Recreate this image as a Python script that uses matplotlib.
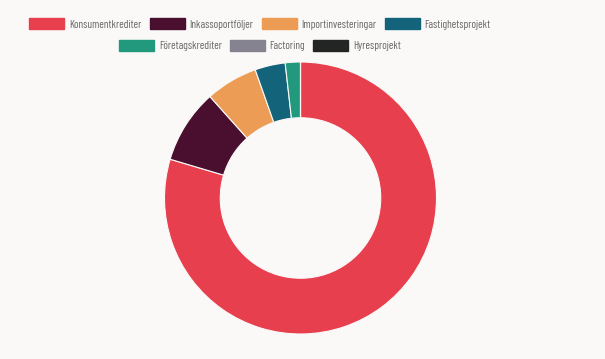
import matplotlib.pyplot as plt
from matplotlib.patches import Patch

labels = ["Konsumentkrediter", "Inkassoportföljer", "Importinvesteringar",
          "Fastighetsprojekt", "Företagskrediter", "Factoring", "Hyresprojekt"]
values = [79.6, 8.8, 6.2, 3.6, 1.8, 0, 0]
colors = ["#e83f4f", "#4a0f2e", "#ed9c55", "#13647a", "#22987c", "#868391", "#222524"]

bg = "#faf9f8"
W, H = 605, 359
fig = plt.figure(figsize=(W / 100, H / 100), dpi=100, facecolor=bg)

# doughnut: centre (300.5, 198) px, outer radius 136 px
cx, cy, r = 300.5, 198, 136
ax = fig.add_axes([(cx - r) / W, (H - cy - r) / H, 2 * r / W, 2 * r / H])
ax.set_facecolor(bg)
ax.pie(values, colors=colors, startangle=90, counterclock=False, radius=1,
       wedgeprops=dict(width=0.41, edgecolor=bg, linewidth=0.8))
ax.set_xlim(-1, 1)
ax.set_ylim(-1, 1)
ax.axis("off")

fs = 8
px = fs * 100 / 72
handles = [Patch(facecolor=c, edgecolor=c) for c in colors]
opts = dict(frameon=False, handlelength=35 / px, handleheight=12 / px,
            handletextpad=5 / px, columnspacing=8 / px, borderpad=0, borderaxespad=0,
            labelcolor="#666666",
            prop={"family": ["Barlow Condensed", "Barlow Semi Condensed", "Lato"], "size": fs})
fig.legend(handles[:4], labels[:4], ncol=4, loc="center",
           bbox_to_anchor=(260 / W, 1 - 24 / H), **opts)
fig.legend(handles[4:], labels[4:], ncol=3, loc="center",
           bbox_to_anchor=(260 / W, 1 - 45.5 / H), **opts)

fig.savefig("out.png", dpi=100, facecolor=bg)
